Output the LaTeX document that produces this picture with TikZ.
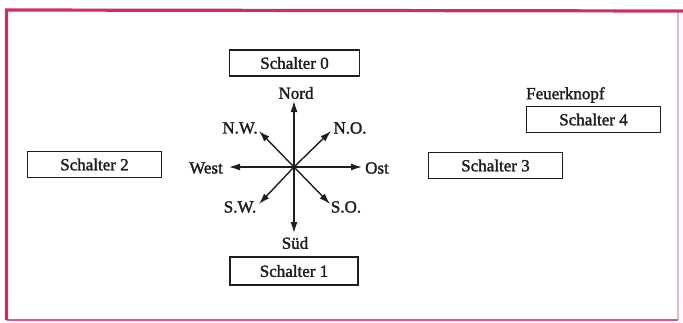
\documentclass[tikz,border=0pt]{standalone}
\usepackage{fontspec}
\setmainfont{Liberation Serif}[FakeBold=1.7]
\usetikzlibrary{arrows.meta}
\definecolor{framepink}{RGB}{208,44,102}
\definecolor{ink}{RGB}{30,30,30}
\tikzset{
  switchbox/.style={draw=ink,line width=1.8pt,minimum width=#1,minimum height=26pt,
    inner sep=0pt,font=\fontsize{17}{19}\selectfont,text=ink},
  switchbox/.default=134pt,
  dirlabel/.style={inner sep=0pt,font=\fontsize{17}{19}\selectfont,text=ink},
  dirarrow/.style={draw=ink,line width=1.4pt,-{Latex[length=11pt,width=7pt]}}
}
\begin{document}
\begin{tikzpicture}[x=1pt,y=-1pt]
  \useasboundingbox (0,0) rectangle (683,322);
  % outer frame
  \draw[framepink!35,line width=1.2pt] (678,11) -- (678,320);
  \draw[framepink!80,line width=2pt] (7,320) -- (678,320);
  \draw[framepink,line width=3.2pt] (6.5,320) -- (6.5,10) -- (683,11);

  % switch boxes
  \node[switchbox=130pt] (s0) at (294.5,63)  {Schalter 0};
  \node[switchbox=128pt,minimum height=28pt] (s1) at (294,271) {Schalter 1};
  \node[switchbox] (s2) at (94.5,164.5) {Schalter 2};
  \node[switchbox] (s3) at (495.5,165.5) {Schalter 3};
  \node[switchbox] (s4) at (593.5,119.5) {Schalter 4};
  \node[dirlabel,anchor=west] (fire) at (526,95) {Feuerknopf};

  % compass rose
  \coordinate (c) at (294,167);
  \coordinate (tN)  at (294,101);
  \coordinate (tS)  at (294,233);
  \coordinate (tW)  at (229,167);
  \coordinate (tE)  at (362,167);
  \coordinate (tNE) at (331,131);
  \coordinate (tNW) at (259,131);
  \coordinate (tSW) at (259,204);
  \coordinate (tSE) at (330,204);
  \foreach \t in {tN,tS,tW,tE,tNE,tNW,tSW,tSE}
    \draw[dirarrow] (c) -- (\t);

  \node[dirlabel] (lN)  at (296,93)  {Nord};
  \node[dirlabel] (lS)  at (295,243) {Süd};
  \node[dirlabel] (lW)  at (206,168) {West};
  \node[dirlabel] (lE)  at (377,168) {Ost};
  \node[dirlabel] (lNE) at (350,128) {N.O.};
  \node[dirlabel] (lNW) at (240,128) {N.W.};
  \node[dirlabel] (lSW) at (240,207) {S.W.};
  \node[dirlabel] (lSE) at (346,207) {S.O.};
\end{tikzpicture}
\end{document}
